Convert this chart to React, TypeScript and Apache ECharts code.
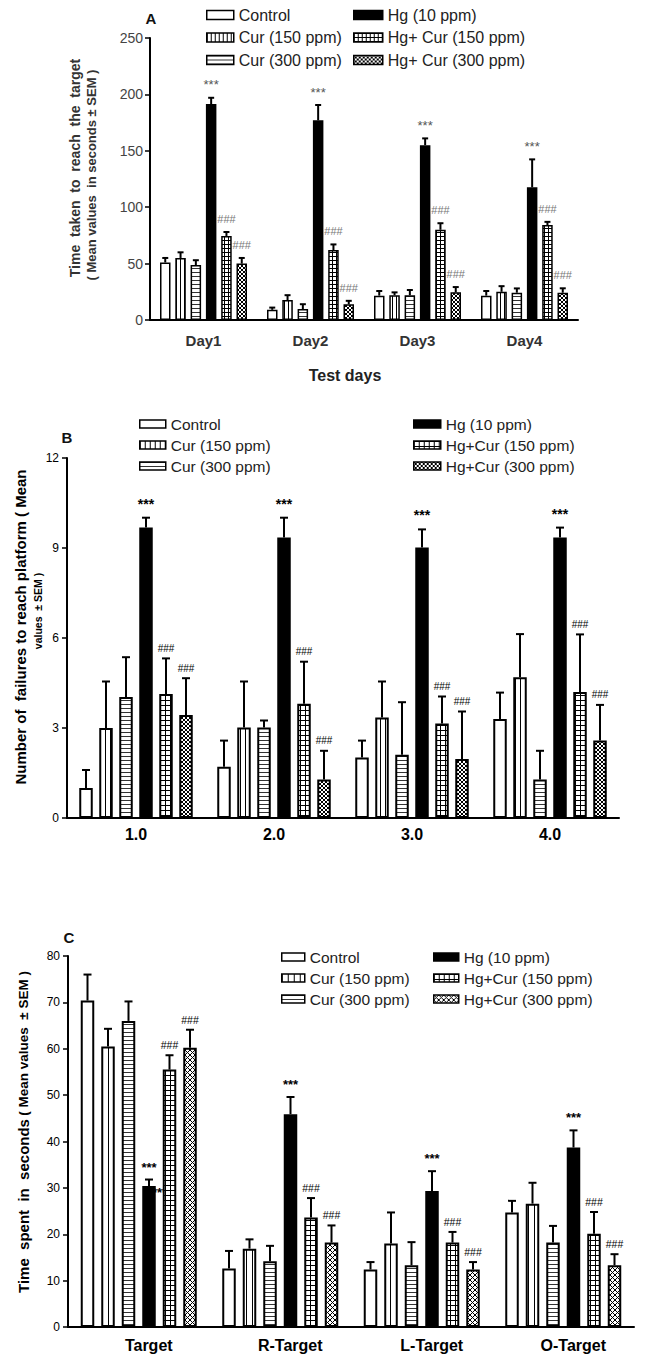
import React, { useEffect, useRef } from "react";
import * as echarts from "echarts";

const FONT = "'Liberation Sans', Arial, Helvetica, sans-serif";

// ---------- DATA ----------
const namesA = ["Control", "Cur (150 ppm)", "Cur (300 ppm)", "Hg (10 ppm)", "Hg+ Cur (150 ppm)", "Hg+ Cur (300 ppm)"];
const namesBC = ["Control", "Cur (150 ppm)", "Cur (300 ppm)", "Hg (10 ppm)", "Hg+Cur (150 ppm)", "Hg+Cur (300 ppm)"];
const testDays = ["Day1", "Day2", "Day3", "Day4"];
const trials = ["1.0", "2.0", "3.0", "4.0"];
const quadrants = ["Target", "R-Target", "L-Target", "O-Target"];
const marks = ["", "", "", "***", "###", "###"];

// Panel A: time taken to reach the target (s), rows = groups, cols = days
const meanA = [
  [51, 9, 21.6, 21.6],
  [55, 17.7, 22, 25],
  [48.7, 9.7, 22, 24.2],
  [191.5, 177, 155, 117.6],
  [74.5, 62, 80, 84.2],
  [50, 14, 24.5, 24.2],
];
const semA = [
  [4, 2, 4.1, 4.1],
  [5, 4.3, 2.5, 5],
  [4.3, 4.3, 4.6, 3.8],
  [5.5, 13.6, 6, 24.8],
  [3.5, 5, 5.8, 2.8],
  [5, 3, 4.7, 3.9],
];
const yMaxA = 250;
const yStepA = 50;

// Panel B: number of failures
const meanB = [
  [1.0, 1.71, 2.02, 3.3],
  [3.0, 3.02, 3.35, 4.69],
  [4.03, 3.02, 2.11, 1.28],
  [9.68, 9.35, 9.02, 9.35],
  [4.13, 3.81, 3.15, 4.2],
  [3.43, 1.28, 1.97, 2.58],
];
const semB = [
  [0.6, 0.87, 0.56, 0.88],
  [1.55, 1.53, 1.2, 1.44],
  [1.33, 0.23, 1.75, 0.96],
  [0.33, 0.66, 0.6, 0.33],
  [1.19, 1.4, 0.9, 1.92],
  [1.23, 0.96, 1.58, 1.19],
];
const yMaxB = 12;
const yStepB = 3;

// Panel C: time spent in quadrants (s)
const meanC = [
  [70.4, 12.6, 12.4, 24.7],
  [60.5, 16.9, 18, 26.6],
  [66, 14.2, 13.3, 18.2],
  [30.4, 45.9, 29.3, 38.7],
  [55.5, 23.6, 18.2, 20.1],
  [60.2, 18.2, 12.4, 13.3],
];
const semC = [
  [5.6, 3.8, 1.6, 2.5],
  [3.8, 2, 6.7, 4.5],
  [4.2, 3.3, 5, 3.6],
  [1.4, 3.7, 4.3, 3.7],
  [3.1, 4.2, 2.3, 4.7],
  [3.9, 3.7, 1.6, 2.4],
];
const yMaxC = 80;
const yStepC = 10;

// ---------- HELPERS ----------
function tile(kind: string, p: number, fg = "#000") {
  const c = document.createElement("canvas");
  c.width = p;
  c.height = p;
  const g = c.getContext("2d");
  if (g) {
    g.fillStyle = "#fff";
    g.fillRect(0, 0, p, p);
    g.fillStyle = fg;
    if (kind === "v" || kind === "grid") g.fillRect(0, 0, 1, p);
    if (kind === "h" || kind === "grid") g.fillRect(0, 0, p, 1);
    if (kind === "x") {
      for (let i = 0; i < p; i++) {
        g.fillRect(i, i, 1, 1);
        g.fillRect(p - 1 - i, i, 1, 1);
      }
    }
  }
  return { image: c.toDataURL(), repeat: "repeat", imageWidth: p, imageHeight: p };
}

function buildPanel(idx: number, cfg: any) {
  const fills = [
    "#fff",
    tile("v", cfg.tiles.v),
    tile("h", cfg.tiles.h, "#333"),
    "#000",
    tile("grid", cfg.tiles.grid),
    tile("x", cfg.tiles.x),
  ];
  const w = cfg.barWidth;
  const g = cfg.gap;
  const n = cfg.names.length;
  const total = n * w + (n - 1) * g;
  const offsetFor = (s: number) => -total / 2 + s * (w + g) + w / 2;

  const grid = { ...cfg.grid, containLabel: false };
  const xAxis = {
    type: "category",
    gridIndex: idx,
    data: cfg.cats,
    axisLine: { lineStyle: { color: "#000", width: 2 } },
    axisTick: { show: false },
    axisLabel: {
      fontFamily: FONT,
      fontSize: cfg.xLabel.fontSize,
      fontWeight: "bold",
      color: cfg.xLabel.color,
      margin: cfg.xLabel.margin,
      padding: cfg.xLabel.padding || 0,
    },
    splitLine: { show: false },
  };
  const yAxis = {
    type: "value",
    gridIndex: idx,
    min: 0,
    max: cfg.yMax,
    interval: cfg.yStep,
    axisLine: { show: true, lineStyle: { color: "#000", width: 2 } },
    axisTick: { show: true, length: 5, lineStyle: { color: "#000", width: 1.5 } },
    axisLabel: { fontFamily: FONT, fontSize: cfg.yLabel.fontSize, color: cfg.yLabel.color, margin: cfg.yLabel.margin },
    splitLine: { show: false },
  };

  const series: any[] = cfg.names.map((name: string, s: number) => ({
    type: "bar",
    name,
    xAxisIndex: idx,
    yAxisIndex: idx,
    data: cfg.means[s],
    barWidth: w,
    barGap: `${(g / w) * 100}%`,
    itemStyle: { color: fills[s], borderColor: "#000", borderWidth: cfg.borderWidth },
    emphasis: { disabled: true },
    z: 2,
  }));

  const errData: number[][] = [];
  cfg.means.forEach((row: number[], s: number) => {
    row.forEach((m: number, c: number) => errData.push([c, s, m, cfg.sems[s][c]]));
  });

  series.push({
    type: "custom",
    xAxisIndex: idx,
    yAxisIndex: idx,
    silent: true,
    z: 5,
    encode: { x: 0, y: 2 },
    data: errData,
    renderItem: (_p: any, api: any) => {
      const c = api.value(0);
      const s = api.value(1);
      const m = api.value(2);
      const e = api.value(3);
      const p0 = api.coord([c, m]);
      const p1 = api.coord([c, m + e]);
      const x = p0[0] + offsetFor(s);
      const children: any[] = [
        { type: "line", shape: { x1: x, y1: p0[1], x2: x, y2: p1[1] }, style: { stroke: "#000", lineWidth: cfg.errWidth } },
        {
          type: "line",
          shape: { x1: x - cfg.cap, y1: p1[1], x2: x + cfg.cap, y2: p1[1] },
          style: { stroke: "#000", lineWidth: cfg.errWidth },
        },
      ];
      const mk = marks[s];
      if (mk) {
        const st = mk === "***" ? cfg.star : cfg.hash;
        children.push({
          type: "text",
          x,
          y: p1[1] - st.dy,
          style: { text: mk, fill: st.fill, font: st.font, align: "center", verticalAlign: "middle" },
        });
      }
      return { type: "group", children };
    },
  });

  const legends = cfg.legends.map((lg: any, li: number) => ({
    orient: "vertical",
    left: lg.left,
    top: lg.top,
    padding: 0,
    itemWidth: lg.itemWidth,
    itemHeight: lg.itemHeight,
    itemGap: lg.itemGap,
    icon: "rect",
    selectedMode: false,
    textStyle: { fontFamily: FONT, fontSize: lg.fontSize, color: "#222" },
    data: cfg.names.slice(li * 3, li * 3 + 3).map((name: string, k: number) => ({
      name,
      itemStyle: { color: fills[li * 3 + k], borderColor: "#000", borderWidth: 1.5 },
    })),
  }));

  return { grid, xAxis, yAxis, series, legends };
}

export default function App() {
  const ref = useRef<HTMLDivElement>(null);
  useEffect(() => {
    if (!ref.current) return;
    const chart = echarts.init(ref.current, undefined, { renderer: "svg" });

    const pA = buildPanel(0, {
      names: namesA,
      cats: testDays,
      means: meanA,
      sems: semA,
      grid: { left: 150, top: 38, width: 428, height: 282 },
      yMax: yMaxA,
      yStep: yStepA,
      barWidth: 10.5,
      gap: 4.8,
      borderWidth: 1.5,
      tiles: { v: 4, h: 4, grid: 4, x: 4 },
      yLabel: { fontSize: 14, color: "#444", margin: 7 },
      xLabel: { fontSize: 15, color: "#333", margin: 13 },
      legends: [
        { left: 206, top: 7, itemWidth: 27, itemHeight: 9, itemGap: 6.5, fontSize: 16 },
        { left: 353, top: 7, itemWidth: 29, itemHeight: 9, itemGap: 6.5, fontSize: 16 },
      ],
      cap: 3,
      errWidth: 2,
      star: { fill: "#555", font: `13px ${FONT}`, dy: 13 },
      hash: { fill: "#777", font: `11px ${FONT}`, dy: 13 },
    });

    const pB = buildPanel(1, {
      names: namesBC,
      cats: trials,
      means: meanB,
      sems: semB,
      grid: { left: 67, top: 458, width: 552, height: 360 },
      yMax: yMaxB,
      yStep: yStepB,
      barWidth: 13.5,
      gap: 6.5,
      borderWidth: 2,
      tiles: { v: 5, h: 4, grid: 5, x: 4 },
      yLabel: { fontSize: 12, color: "#000", margin: 8 },
      xLabel: { fontSize: 16, color: "#000", margin: 8 },
      legends: [
        { left: 139, top: 416, itemWidth: 26, itemHeight: 8, itemGap: 5, fontSize: 15.5 },
        { left: 413, top: 416, itemWidth: 27, itemHeight: 8, itemGap: 5, fontSize: 15.5 },
      ],
      cap: 4,
      errWidth: 2,
      star: { fill: "#000", font: `bold 14px ${FONT}`, dy: 14 },
      hash: { fill: "#000", font: `10px ${FONT}`, dy: 10 },
    });

    const pC = buildPanel(2, {
      names: namesBC,
      cats: quadrants,
      means: meanC,
      sems: semC,
      grid: { left: 68, top: 956, width: 566, height: 371 },
      yMax: yMaxC,
      yStep: yStepC,
      barWidth: 13.5,
      gap: 7,
      borderWidth: 2,
      tiles: { v: 6, h: 4, grid: 5, x: 5 },
      yLabel: { fontSize: 12, color: "#000", margin: 8 },
      xLabel: { fontSize: 16, color: "#000", margin: 10, padding: [0, 0, 0, 20] },
      legends: [
        { left: 281, top: 949, itemWidth: 23, itemHeight: 8, itemGap: 5, fontSize: 15.5 },
        { left: 433, top: 949, itemWidth: 25, itemHeight: 8, itemGap: 5, fontSize: 15.5 },
      ],
      cap: 4,
      errWidth: 2,
      star: { fill: "#000", font: `bold 13px ${FONT}`, dy: 12.5 },
      hash: { fill: "#000", font: `10.5px ${FONT}`, dy: 10 },
    });

    const txt = (x: number, y: number, text: string, font: string, extra: any = {}) => ({
      type: "text",
      x,
      y,
      silent: true,
      ...extra,
      style: { text, font, fill: extra.fill || "#111", align: extra.align || "center", verticalAlign: "middle" },
    });

    const option: any = {
      animation: false,
      backgroundColor: "#fff",
      grid: [pA.grid, pB.grid, pC.grid],
      xAxis: [pA.xAxis, pB.xAxis, pC.xAxis],
      yAxis: [pA.yAxis, pB.yAxis, pC.yAxis],
      legend: [...pA.legends, ...pB.legends, ...pC.legends],
      series: [...pA.series, ...pB.series, ...pC.series],
      graphic: [
        txt(151, 18, "A", `bold 15px ${FONT}`),
        txt(75, 168, "Time  taken  to  reach  the  target", `bold 14px ${FONT}`, { rotation: Math.PI / 2, fill: "#333" }),
        txt(91, 175, "( Mean values  in seconds ± SEM )", `bold 13px ${FONT}`, { rotation: Math.PI / 2, fill: "#333" }),
        txt(345, 375, "Test days", `bold 16px ${FONT}`, { fill: "#222" }),
        txt(67, 437, "B", `bold 15px ${FONT}`),
        txt(20, 627, "Number of  failures to reach platform ( Mean", `bold 15px ${FONT}`, { rotation: Math.PI / 2, fill: "#000" }),
        txt(38, 611, "values  ± SEM )", `bold 10.5px ${FONT}`, { rotation: Math.PI / 2, fill: "#000" }),
        txt(69, 937, "C", `bold 15px ${FONT}`),
        {
          type: "text",
          x: 23,
          y: 1132,
          rotation: Math.PI / 2,
          silent: true,
          style: {
            text: "{a|Time  spent  in  seconds} {b|( Mean values  ± SEM )}",
            align: "center",
            verticalAlign: "middle",
            rich: {
              a: { font: `bold 15px ${FONT}`, fill: "#000" },
              b: { font: `bold 13.5px ${FONT}`, fill: "#000" },
            },
          },
        },
        { ...txt(152, 1192, "***", `bold 13px ${FONT}`, { align: "left", fill: "#000" }), z: 0 },
      ],
    };
    chart.setOption(option);
    return () => chart.dispose();
  }, []);

  return <div ref={ref} style={{ position: "absolute", left: 0, top: 0, width: 669, height: 1355 }} />;
}
